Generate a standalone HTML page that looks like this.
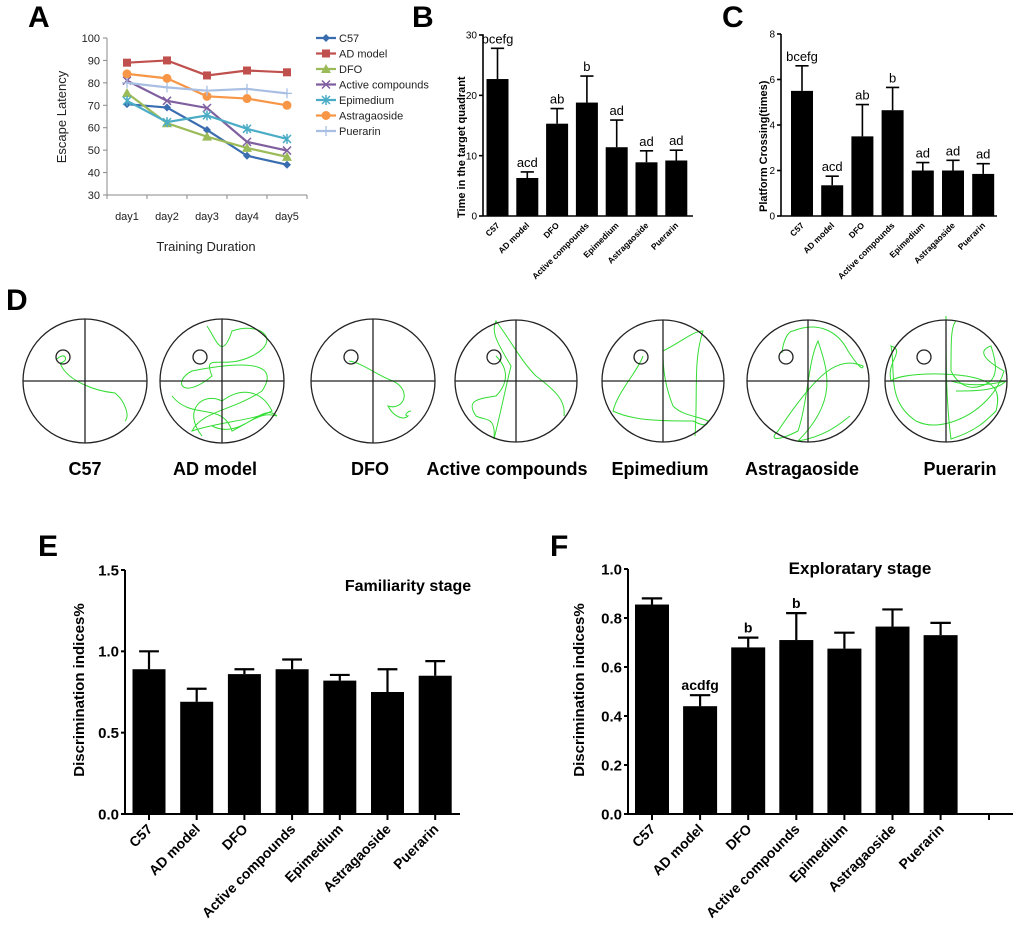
<!DOCTYPE html>
<html><head><meta charset="utf-8"><style>
html,body{margin:0;padding:0;background:#fff;}
svg{display:block;font-family:"Liberation Sans",Arial,sans-serif;}
</style></head><body>
<svg id="fig" width="1020" height="950" viewBox="0 0 1020 950" xmlns="http://www.w3.org/2000/svg">
<defs><clipPath id="clipB"><rect x="440" y="33" width="27" height="200"/></clipPath>
<clipPath id="clipC"><rect x="740" y="44" width="31" height="200"/></clipPath></defs>
<g id="root"></g>
</svg>
<script>
const NS='http://www.w3.org/2000/svg';
const root=document.getElementById('root');
function el(tag,attrs,parent,txt){const e=document.createElementNS(NS,tag);for(const k in attrs)e.setAttribute(k,attrs[k]);if(txt!==undefined)e.textContent=txt;(parent||root).appendChild(e);return e;}

// ---------- DATA ----------
const days=['day1','day2','day3','day4','day5'];
const aTicks=[30,40,50,60,70,80,90,100];
const seriesNames=['C57','AD model','DFO','Active compounds','Epimedium','Astragaoside','Puerarin'];
const sC57=[70.5,69,59,47.5,43.5];
const sAD=[89,90,83.3,85.5,84.7];
const sDFO=[75.5,62,56,51,47];
const sActive=[81,72,68.8,53.7,49.8];
const sEpi=[72,62.5,65.5,59.5,55];
const sAstra=[84,82,74,73,70];
const sPue=[80,78,76.5,77.3,75.3];

const groups=['C57','AD model','DFO','Active compounds','Epimedium','Astragaoside','Puerarin'];
const bVals=[22.7,6.3,15.3,18.8,11.4,8.9,9.2];
const bErr=[5.1,1.0,2.5,4.4,4.5,1.9,1.7];
const bAnn=['bcefg','acd','ab','b','ad','ad','ad'];
const bTicks=[0,10,20,30];
const cVals=[5.5,1.35,3.5,4.65,2.0,2.0,1.85];
const cErr=[1.1,0.4,1.4,1.0,0.35,0.45,0.45];
const cAnn=['bcefg','acd','ab','b','ad','ad','ad'];
const cTicks=[0,2,4,6,8];
const eVals=[0.89,0.69,0.86,0.89,0.82,0.75,0.85];
const eErr=[0.11,0.08,0.03,0.06,0.035,0.14,0.09];
const eTicks=['0.0','0.5','1.0','1.5'];
const fVals=[0.855,0.44,0.68,0.71,0.675,0.765,0.73];
const fErr=[0.025,0.045,0.04,0.11,0.065,0.07,0.05];
const fAnn=['','acdfg','b','b','','',''];
const fTicks=['0.0','0.2','0.4','0.6','0.8','1.0'];

// ---------- panel labels ----------
[['A',28,27],['B',412,27],['C',722,27],['D',6,310],['E',38,556],['F',550,556]].forEach(p=>{
  const t=el('text',{x:p[1],y:p[2],'font-size':30,'font-weight':'bold',fill:'#000'},root,p[0]);
  
  
});

// ---------- Panel A ----------
(function(){
  const g=el('g',{});
  
  
  const x0=107,x1=307,yTop=38,yBot=195;
  const y=v=>yBot-(v-30)/(100-30)*(yBot-yTop);
  const band=(x1-x0)/days.length;
  const x=i=>x0+band*(i+0.5);
  el('line',{x1:x0,y1:yTop,x2:x0,y2:yBot,stroke:'#888','stroke-width':1},g);
  el('line',{x1:x0,y1:yBot,x2:x1,y2:yBot,stroke:'#888','stroke-width':1},g);
  aTicks.forEach(v=>{
    el('line',{x1:x0-4,y1:y(v),x2:x0,y2:y(v),stroke:'#888'},g);
    const t=el('text',{x:x0-7,y:y(v)+4,'font-size':11,'text-anchor':'end',fill:'#222'},g,v);
    
    
  });
  for(let i=0;i<=days.length;i++)el('line',{x1:x0+band*i,y1:yBot,x2:x0+band*i,y2:yBot+4,stroke:'#888'},g);
  days.forEach((d,i)=>{
    const t=el('text',{x:x(i),y:220,'font-size':11,'text-anchor':'middle',fill:'#222'},g,d);
    
    
  });
  const yt=el('text',{transform:'translate(66,117) rotate(-90)','font-size':13,'text-anchor':'middle',fill:'#222'},g,'Escape Latency');
  
  
  const xt=el('text',{x:206,y:251,'font-size':13,'text-anchor':'middle',fill:'#222'},g,'Training Duration');
  
  
  const all=[sC57,sAD,sDFO,sActive,sEpi,sAstra,sPue];
  const cols=['#3a6db0','#c0504d','#9bbb59','#7f5f9f','#4bacc6','#f79646','#a8bfe3'];
  const marks=['diamond','square','triangle','x','star','circle','plus'];
  function marker(type,cx,cy,c,p){
    if(type==='diamond')el('path',{d:`M${cx} ${cy-4}L${cx+4} ${cy}L${cx} ${cy+4}L${cx-4} ${cy}Z`,fill:c},p);
    else if(type==='square')el('rect',{x:cx-4,y:cy-4,width:8,height:8,fill:c},p);
    else if(type==='triangle')el('path',{d:`M${cx} ${cy-5}L${cx+5} ${cy+4}L${cx-5} ${cy+4}Z`,fill:c},p);
    else if(type==='x')el('path',{d:`M${cx-4} ${cy-4}L${cx+4} ${cy+4}M${cx+4} ${cy-4}L${cx-4} ${cy+4}`,stroke:c,'stroke-width':1.5},p);
    else if(type==='star')el('path',{d:`M${cx-4} ${cy-4}L${cx+4} ${cy+4}M${cx+4} ${cy-4}L${cx-4} ${cy+4}M${cx} ${cy-5}L${cx} ${cy+5}`,stroke:c,'stroke-width':1.5},p);
    else if(type==='circle')el('circle',{cx:cx,cy:cy,r:4.5,fill:c},p);
    else el('path',{d:`M${cx-5} ${cy}L${cx+5} ${cy}M${cx} ${cy-5}L${cx} ${cy+5}`,stroke:c,'stroke-width':1.3},p);
  }
  all.forEach((s,k)=>{
    const sg=el('g',{},g);
    
    
    el('polyline',{points:s.map((v,i)=>x(i)+','+y(v)).join(' '),fill:'none',stroke:cols[k],'stroke-width':2.2},sg);
    s.forEach((v,i)=>marker(marks[k],x(i),y(v),cols[k],sg));
    const ly=38+15.5*k;
    const lg=el('g',{},g);
    
    
    el('line',{x1:316,y1:ly,x2:336,y2:ly,stroke:cols[k],'stroke-width':2.2},lg);
    marker(marks[k],326,ly,cols[k],lg);
    el('text',{x:339,y:ly+4,'font-size':11,fill:'#222'},lg,seriesNames[k]);
  });
})();

// ---------- generic bar chart ----------
function barChart(o){
  const g=el('g',{});
  
  
  const y=v=>o.yBot-(v-0)/(o.max)*(o.yBot-o.yTop);
  const x=i=>o.c0+o.step*i;
  el('line',{x1:o.x0,y1:o.yTop,x2:o.x0,y2:o.yBot,stroke:'#000','stroke-width':o.aw},g);
  el('line',{x1:o.x0,y1:o.yBot,x2:o.x1,y2:o.yBot,stroke:'#000','stroke-width':o.aw},g);
  o.ticks.forEach(tv=>{
    const v=parseFloat(tv);
    el('line',{x1:o.x0-4,y1:y(v),x2:o.x0,y2:y(v),stroke:'#000','stroke-width':o.aw},g);
    const t=el('text',{x:o.x0-6,y:y(v)+o.tfs*0.36,'font-size':o.tfs,'font-weight':o.tfw,'text-anchor':'end'},g,tv);
    
    
  });
  o.vals.forEach((v,i)=>{
    const cx=x(i);
    const b=el('rect',{x:cx-o.bw/2,y:y(v),width:o.bw,height:o.yBot-y(v),fill:'#000'},g);
    
    
    const top=y(v+o.err[i]);
    const eb=el('path',{d:`M${cx} ${y(v)}L${cx} ${top}M${cx-o.bw*0.3} ${top}L${cx+o.bw*0.3} ${top}`,stroke:'#000','stroke-width':o.ew},g);
    
    
    if(o.ann&&o.ann[i]){
      const a=el('text',{x:cx,y:top-5,'font-size':o.afs,'font-weight':o.afw,'text-anchor':'middle'},g,o.ann[i]);
      
      
    }
    if(o.xticks)el('line',{x1:cx,y1:o.yBot,x2:cx,y2:o.yBot+6,stroke:'#000','stroke-width':o.aw},g);
    const lx=cx+o.lfs*0.3, ly=o.yBot+o.loff;
    const t=el('text',{transform:`translate(${lx},${ly}) rotate(-45)`,'font-size':o.lfs,'font-weight':'bold','text-anchor':'end'},g,groups[i]);
    
    
  });
  if(o.extraTick)el('line',{x1:o.extraTick,y1:o.yBot,x2:o.extraTick,y2:o.yBot+6,stroke:'#000','stroke-width':o.aw},g);
  const wrap=el('g',{},g);
  if(o.clip)wrap.setAttribute('clip-path',o.clip);
  const yt=el('text',{transform:`translate(${o.ytx},${o.yty}) rotate(-90)`,'font-size':o.ytfs,'font-weight':'bold','text-anchor':o.ytAnchor||'middle'},wrap,o.ytitle);
  
  
  if(o.title){
    const tt=el('text',{x:o.title[1],y:o.title[2],'font-size':o.title[3],'font-weight':'bold','text-anchor':'middle'},g,o.title[0]);
    
    
  }
}
barChart({name:'panel-b-target-quadrant-time',vals:bVals,err:bErr,ann:bAnn,ticks:bTicks,max:30,x0:483,x1:693,yTop:35,yBot:216,c0:497.5,step:29.8,bw:22,aw:1.6,ew:1.6,tfs:10,tfw:'normal',afs:13,afw:'normal',lfs:8.5,loff:10,ytx:465,yty:218,ytfs:11,ytAnchor:'start',ytitle:'Time in the target quadrant',clip:'url(#clipB)'});
barChart({name:'panel-c-platform-crossing',vals:cVals,err:cErr,ann:cAnn,ticks:cTicks,max:8,x0:781,x1:997,yTop:34,yBot:216,c0:802,step:30.2,bw:22,aw:1.6,ew:1.6,tfs:10,tfw:'normal',afs:13,afw:'normal',lfs:8.5,loff:10,ytx:767,yty:212,ytfs:11,ytAnchor:'start',ytitle:'Platform Crossing(times)',clip:'url(#clipC)'});
barChart({name:'panel-e-familiarity-stage',vals:eVals,err:eErr,ann:null,ticks:eTicks,max:1.5,x0:125,x1:460,yTop:570,yBot:814,c0:149,step:47.7,bw:33,aw:2,ew:2.2,tfs:15,tfw:'bold',afs:14,afw:'bold',lfs:14,loff:16,xticks:true,ytx:84,yty:690,ytfs:15,ytitle:'Discrimination indices%',title:['Familiarity stage',408,591,16]});
barChart({name:'panel-f-exploratary-stage',vals:fVals,err:fErr,ann:fAnn,ticks:fTicks,max:1.0,x0:628,x1:1013,yTop:569,yBot:814,c0:652,step:48.1,bw:34,aw:2,ew:2.2,tfs:15,tfw:'bold',afs:14,afw:'bold',lfs:14,loff:16,xticks:true,extraTick:989,ytx:584,yty:690,ytfs:15,ytitle:'Discrimination indices%',title:['Exploratary stage',860,574,17]});

// ---------- Panel D: water maze trajectories ----------
const mazes=[
 {n:'C57',cx:85,r:62,tx:85,p:['M-28 -22 C-20 -30 -15 -20 -25 -18 C-18 0 10 10 30 12 C40 20 45 35 40 40']},
 {n:'AD model',cx:222,r:62,tx:215,p:['M-15 -55 C-5 -40 0 -20 10 -50 C40 -60 60 -40 30 -25 C0 -10 -20 -30 -10 -5 C-40 20 -50 0 -30 -10 C20 -20 60 -20 40 10 C10 30 -20 30 -30 50 C0 40 30 40 50 30 C40 10 20 5 0 20 C-20 10 -40 30 -20 55','M-50 15 C-30 40 0 20 10 50 C30 40 40 30 55 35 C40 20 20 60 -10 45']},
 {n:'DFO',cx:373,r:62,tx:370,p:['M-24 -20 C-10 -18 5 -5 20 0 C40 10 30 30 15 25 C20 35 30 40 35 35 C30 35 35 30 38 30']},
 {n:'Active compounds',cx:516,r:61,tx:507,p:['M-20 -25 C-5 -10 -10 5 -20 15 C-40 18 -50 20 -40 35 C-30 40 -20 35 -22 58 C-15 30 -10 5 -5 -15 C-20 -40 -25 -50 -20 -60 C-5 -40 5 -20 20 -5 C40 10 50 20 48 35']},
 {n:'Epimedium',cx:663,r:61,tx:660,p:['M-20 -25 C-25 -10 -45 10 -50 30 C-30 40 0 40 30 40 C40 45 45 45 45 40 C35 35 20 35 10 25 C0 0 0 -20 0 -30 C20 -40 30 -50 40 -50 C30 -20 35 10 32 55']},
 {n:'Astragaoside',cx:808,r:61,tx:802,p:['M-26 -28 C-25 -40 -20 -50 -15 -50 C10 -60 30 -50 40 -30 C50 -15 55 -10 55 -15 C30 -25 10 -10 -30 50 C-40 60 -30 60 -10 50 C0 20 0 -20 10 -40 C20 -10 30 20 -10 60 C20 55 35 40 42 35']},
 {n:'Puerarin',cx:946,r:61,tx:960,p:['M0 -65 C0 -20 0 20 5 58 C30 50 40 40 50 30 C55 10 50 0 20 -5 C-20 -10 -50 -5 -55 0 C-60 -20 -40 -30 -55 -35 C-50 -10 -60 20 -30 40 C-10 50 20 40 40 20 C50 10 55 0 58 -10 C40 -20 30 -30 45 -35 C50 -20 55 0 35 5 C20 10 10 0 5 -10 C5 -40 5 -55 10 -60','M5 0 C20 5 40 5 60 0 C50 10 30 10 10 10']}
];
mazes.forEach(m=>{
  const g=el('g',{transform:`translate(${m.cx},381)`});
  
  
  m.p.forEach(d=>el('path',{d:d,fill:'none',stroke:'#33dd33','stroke-width':1},g));
  el('circle',{cx:0,cy:0,r:m.r,fill:'none',stroke:'#222','stroke-width':1.3},g);
  el('line',{x1:-m.r,y1:0,x2:m.r,y2:0,stroke:'#222','stroke-width':1.3},g);
  el('line',{x1:0,y1:-m.r,x2:0,y2:m.r,stroke:'#222','stroke-width':1.3},g);
  el('circle',{cx:-22,cy:-24,r:7,fill:'none',stroke:'#222','stroke-width':1.3},g);
  const t=el('text',{x:m.tx,y:475,'font-size':18,'font-weight':'bold','text-anchor':'middle'},root,m.n);
  
  
});
</script>
</body></html>
